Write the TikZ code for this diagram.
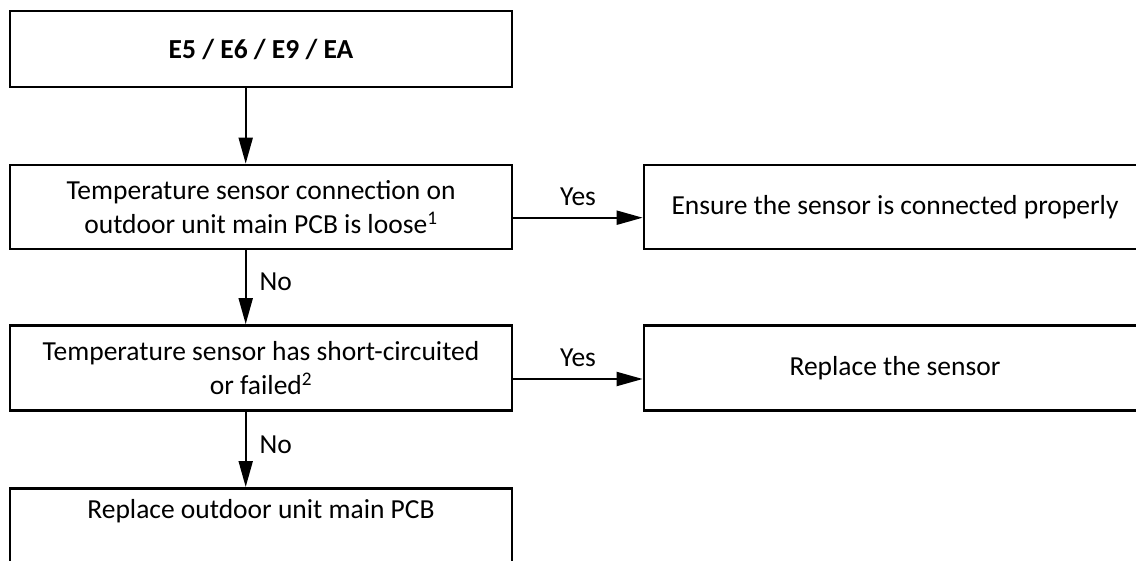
\documentclass[tikz,border=0pt]{standalone}
\usepackage{fontspec}
\setmainfont{Carlito}
\usetikzlibrary{arrows.meta}
\begin{document}
\begin{tikzpicture}[x=1pt,y=-1pt,
  txt/.style={font=\fontsize{27.5}{33.5}\selectfont},
  box/.style={draw,line width=2.7pt,minimum width=502pt,inner sep=0pt,align=center,txt},
  arr/.style={line width=2pt,-{Triangle[length=26pt,width=14pt]}},
  lbl/.style={txt,inner sep=0pt}]
\useasboundingbox (0,0) rectangle (1136,561);
\clip (0,0) rectangle (1136,561);
\node[box,minimum height=76pt] (b1) at (261,49) {\bfseries E5 / E6 / E9 / EA};
\node[box,minimum height=84pt] (b2) at (261,207) {Temperature sensor connection on\\outdoor unit main PCB is loose\textsuperscript{1}};
\node[box,minimum height=85pt] (b3) at (261,368) {Temperature sensor has short-circuited\\or failed\textsuperscript{2}};
\node[box,anchor=north,text height=18pt,text depth=90pt,inner ysep=12pt] (b4) at (261,487) {Replace outdoor unit main PCB};
\node[box,minimum height=84pt] (r1) at (895,207) {Ensure the sensor is connected properly};
\node[box,minimum height=85pt] (r2) at (895,368) {Replace the sensor};
\draw[arr] ([xshift=-15.3pt]b1.south) -- ([xshift=-15.3pt]b2.north);
\draw[arr] ([xshift=-15.3pt]b2.south) -- node[lbl,anchor=west,xshift=13pt,yshift=5pt] {No} ([xshift=-15.3pt]b3.north);
\draw[arr] ([xshift=-15.3pt]b3.south) -- node[lbl,anchor=west,xshift=13pt,yshift=5pt] {No} ([xshift=-15.3pt]b4.north);
\draw[arr] ([yshift=-10.7pt]b2.east) -- node[lbl,above=11pt] {Yes} ([yshift=-10.7pt]r1.west);
\draw[arr] ([yshift=-11pt]b3.east) -- node[lbl,above=11pt] {Yes} ([yshift=-11pt]r2.west);
\end{tikzpicture}
\end{document}
